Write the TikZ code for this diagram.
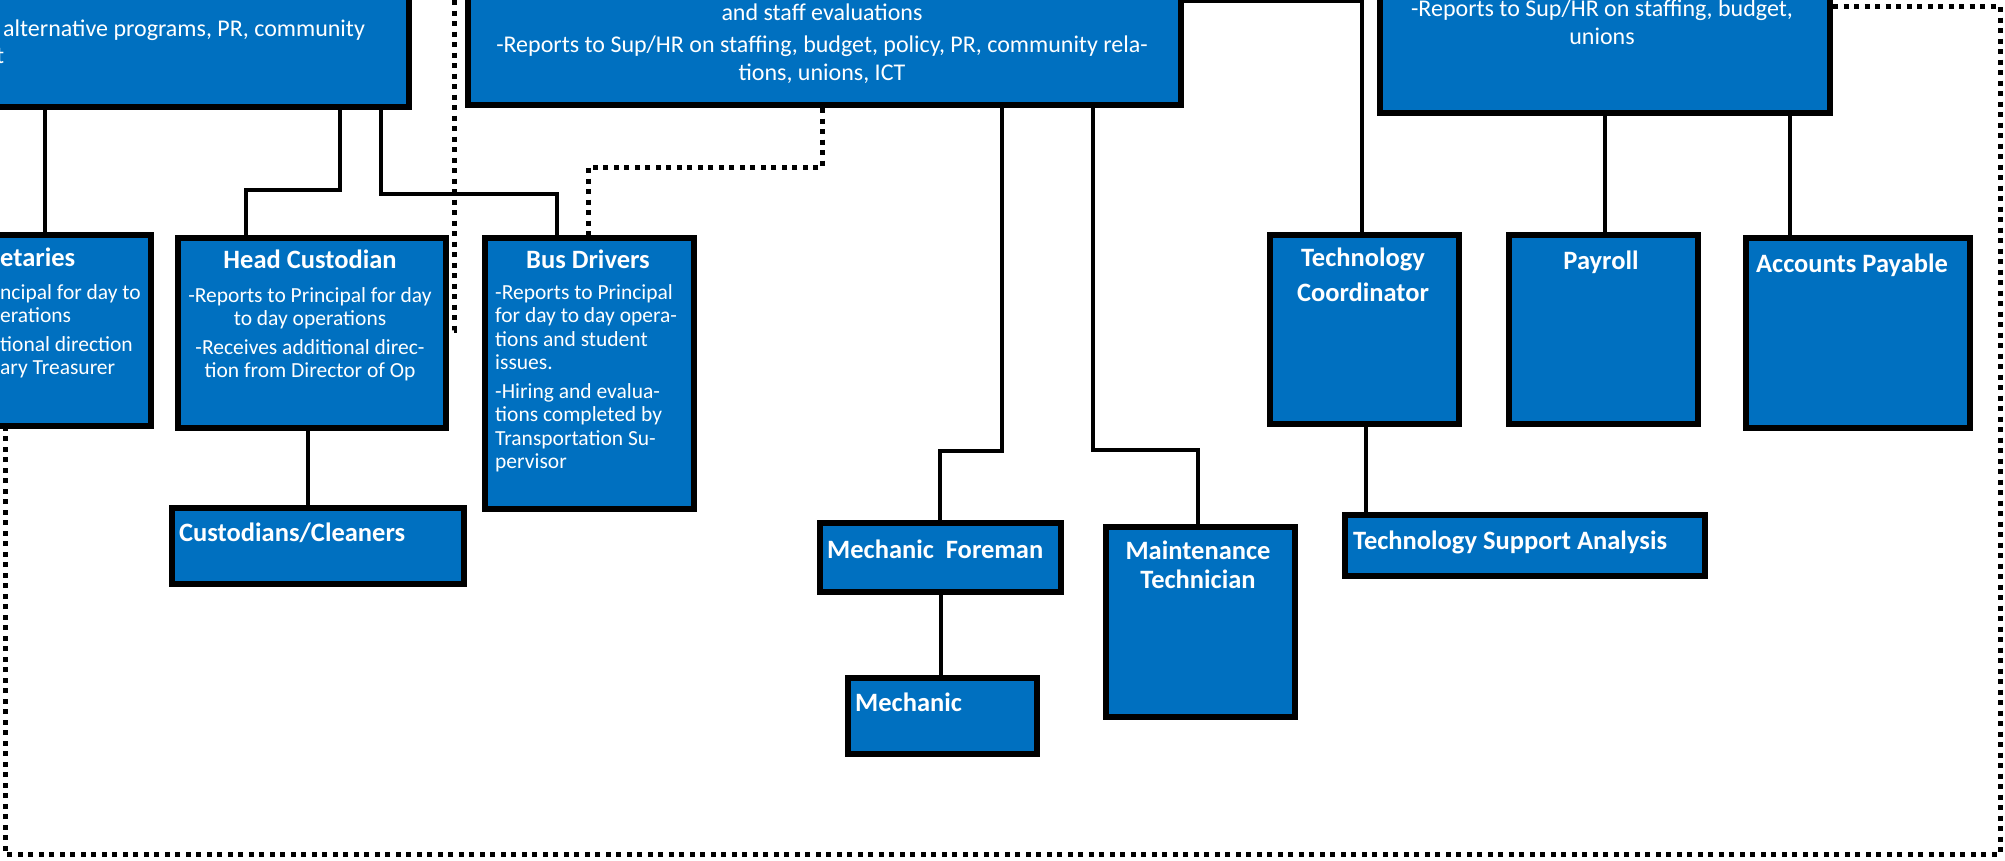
\documentclass[tikz,border=0pt]{standalone}
\usepackage{fontspec}
\setmainfont{Carlito}
\definecolor{boxblue}{RGB}{0,112,192}
\begin{document}
\begin{tikzpicture}[x=1pt,y=-1pt,
  box/.style={draw=black, fill=boxblue, line width=6pt, inner sep=0pt, anchor=north west},
  conn/.style={draw=black, line width=4.5pt},
  dotline/.style={draw=black, line width=5pt, dash pattern=on 5pt off 5.5pt},
  ttl/.style={text=white, font=\bfseries\fontsize{26.5}{29}\selectfont, inner sep=0pt, align=center},
  bodyc/.style={text=white, font=\fontsize{21.5}{23.5}\selectfont, inner sep=0pt, align=center},
  bodyl/.style={text=white, font=\fontsize{21.5}{23.5}\selectfont, inner sep=0pt, align=left},
  topb/.style={text=white, font=\fontsize{24}{28}\selectfont, inner sep=0pt, align=center}]
\useasboundingbox (0,0) rectangle (2005,860);
\clip (0,0) rectangle (2005,860);

% ---------- boxes ----------
\node[box, minimum width=706pt, minimum height=304pt] (A) at (-300,-200) {};
\node[box, minimum width=713pt, minimum height=302pt] (B) at (465,-200) {};
\node[box, minimum width=450pt, minimum height=310pt] (C) at (1377,-200) {};
\node[box, minimum width=248pt, minimum height=191pt] (sec) at (-100,232) {};
\node[box, minimum width=268pt, minimum height=190pt] (hc) at (175,235) {};
\node[box, minimum width=209pt, minimum height=271pt] (bd) at (482,235) {};
\node[box, minimum width=292pt, minimum height=76pt] (cc) at (169,505) {};
\node[box, minimum width=241pt, minimum height=69pt] (mf) at (817,520) {};
\node[box, minimum width=189pt, minimum height=190pt] (mt) at (1103,524) {};
\node[box, minimum width=189pt, minimum height=76pt] (mech) at (845,675) {};
\node[box, minimum width=189pt, minimum height=189pt] (tc) at (1267,232) {};
\node[box, minimum width=189pt, minimum height=189pt] (pay) at (1506,232) {};
\node[box, minimum width=224pt, minimum height=190pt] (ap) at (1743,235) {};
\node[box, minimum width=360pt, minimum height=61pt] (tsa) at (1342,512) {};

% ---------- texts ----------
\node[topb, anchor=north west] (At1) at (3,20) {alternative programs, PR, community};
\node[topb, anchor=north west] (At2) at (-4,48) {t};
\node[topb, anchor=north] (Bt) at (822,4) {and staff evaluations\\[4pt]-Reports to Sup/HR on staffing, budget, policy, PR, community rela-\\tions, unions, ICT};
\node[topb, anchor=north] (Ct) at (1602,0) {-Reports to Sup/HR on staffing, budget,\\unions};
\node[ttl, anchor=north west] (secT) at (0,248) {etaries};
\node[bodyl, anchor=north west] (secB) at (0,284) {ncipal for day to\\erations\\[5pt]tional direction\\ary Treasurer};
\node[ttl, anchor=north] (hcT) at (310,250) {Head Custodian};
\node[bodyc, anchor=north] (hcB) at (310,287) {-Reports to Principal for day\\to day operations\\[5pt]-Receives additional direc-\\tion from Director of Op};
\node[ttl, anchor=north] (bdT) at (588,250) {Bus Drivers};
\node[bodyl, anchor=north west] (bdB) at (495,284) {-Reports to Principal\\for day to day opera-\\tions and student\\issues.\\[5pt]-Hiring and evalua-\\tions completed by\\Transportation Su-\\pervisor};
\node[ttl, anchor=north west] (ccT) at (179,523) {Custodians/Cleaners};
\node[ttl, anchor=north west] (mfT) at (827,540) {Mechanic\ \ Foreman};
\node[ttl, anchor=north west] (mechT) at (855,693) {Mechanic};
\node[ttl, anchor=north] (mtT) at (1198,541) {Maintenance\\Technician};
\node[ttl, anchor=north] (tcT) at (1363,248) {Technology\\[6pt]Coordinator};
\node[ttl, anchor=north] (payT) at (1601,251) {Payroll};
\node[ttl, anchor=north] (apT) at (1852,254) {Accounts Payable};
\node[ttl, anchor=north west] (tsaT) at (1353,531) {Technology Support Analysis};

% ---------- connector bends ----------
\coordinate (xSec) at (45,0);
\coordinate (kH1) at (340,190);
\coordinate (kH2) at (246,190);
\coordinate (kB1) at (381,194);
\coordinate (kB2) at (557,194);
\coordinate (xCC) at (308,0);
\coordinate (kF1) at (1002,451);
\coordinate (kF2) at (940,451);
\coordinate (kM1) at (1093,450);
\coordinate (kM2) at (1198,450);
\coordinate (xMe) at (941,0);
\coordinate (tcK) at (1362,1);
\coordinate (xTs) at (1366,0);
\coordinate (xPa) at (1605,0);
\coordinate (xAp) at (1790,0);
\coordinate (dK1) at (822,167);
\coordinate (dK2) at (588,167);
\coordinate (hT) at (454,0);
\coordinate (hB) at (454,330);
\coordinate (r1) at (2000,6);
\coordinate (r2) at (2000,854);
\coordinate (r3) at (5,854);

% ---------- solid connectors ----------
\draw[conn] (A.south -| xSec) -- (sec.north -| xSec);
\draw[conn] (A.south -| kH1) -- (kH1) -- (kH2) -- (hc.north -| kH2);
\draw[conn] (A.south -| kB1) -- (kB1) -- (kB2) -- (bd.north -| kB2);
\draw[conn] (hc.south -| xCC) -- (cc.north -| xCC);
\draw[conn] (B.south -| kF1) -- (kF1) -- (kF2) -- (mf.north -| kF2);
\draw[conn] (B.south -| kM1) -- (kM1) -- (kM2) -- (mt.north -| kM2);
\draw[conn] (mf.south -| xMe) -- (mech.north -| xMe);
\draw[conn] (B.east |- tcK) -- (tcK) -- (tc.north -| tcK);
\draw[conn] (tc.south -| xTs) -- (tsa.north -| xTs);
\draw[conn] (C.south -| xPa) -- (pay.north -| xPa);
\draw[conn] (C.south -| xAp) -- (ap.north -| xAp);

% ---------- dotted connectors ----------
\draw[dotline] (B.south -| dK1) -- (dK1) -- (dK2) -- (bd.north -| dK2);
\draw[dotline] (hT) -- (hB) -- (hc.east |- hB);
\draw[dotline] (C.east |- r1) -- (r1) -- (r2) -- (r3) -- (sec.south -| r3);
\end{tikzpicture}
\end{document}
